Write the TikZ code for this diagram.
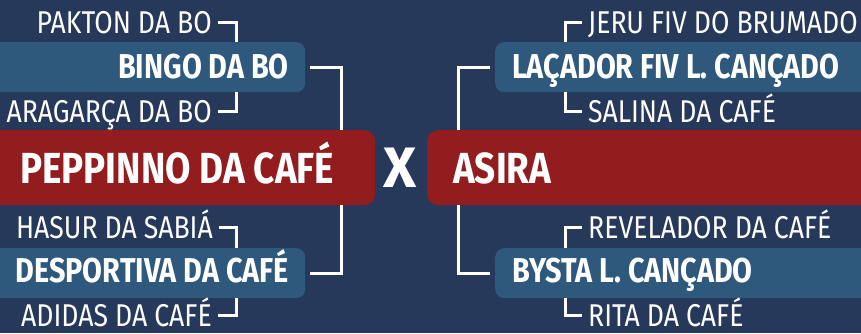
\documentclass[tikz,border=0pt]{standalone}
\usepackage{fontspec}
\setmainfont{Fira Sans}[FakeStretch=0.845, BoldFeatures={FakeStretch=0.835}]
\newfontfamily\bigfont{Fira Sans}[FakeStretch=0.847]
\newfontfamily\vsfont{Fira Sans}
\definecolor{bg}{HTML}{26395B}
\definecolor{boxblue}{HTML}{2F587D}
\definecolor{boxred}{HTML}{931C1E}
\tikzset{
  small/.style={text=white, font=\fontsize{31.5}{32}\selectfont, inner sep=0pt, text height=21.7pt, text depth=0pt},
  mid/.style={text=white, font=\bfseries\fontsize{34.5}{35}\selectfont, inner sep=0pt, text height=23.5pt, text depth=0pt},
  big/.style={text=white, font=\bigfont\bfseries\fontsize{43.5}{44}\selectfont, inner sep=0pt, text height=30pt, text depth=0pt},
  bluebox/.style={fill=boxblue, rounded corners=9pt, inner sep=0pt, anchor=north west, minimum height=50pt},
  redbox/.style={fill=boxred, rounded corners=11pt, inner sep=0pt, anchor=north west, minimum height=75pt},
  conn/.style={draw=white, line width=3pt, line join=miter}
}
\begin{document}
\begin{tikzpicture}[x=1pt,y=-1pt]
\useasboundingbox (0,0) rectangle (861,333);
\fill[bg] (0,0) rectangle (861,333);
\begin{scope}
\clip (0,0) rectangle (861,333);
% boxes
\node[bluebox, minimum width=320pt] (b1) at (-15,42) {};
\node[bluebox, minimum width=320pt] (b2) at (-15,248) {};
\node[bluebox, minimum width=390pt] (b3) at (495,42) {};
\node[bluebox, minimum width=390pt] (b4) at (495,248) {};
\node[redbox, minimum width=390pt] (r1) at (-15,130) {};
\node[redbox, minimum width=460pt] (r2) at (427,130) {};
% texts left
\node[small, anchor=base east] (p1) at (212,33) {PAKTON DA BO};
\node[mid, anchor=base east] (b1t) at (289,78) {BINGO DA BO};
\node[small, anchor=base east] (p2) at (212,122) {ARAGARÇA DA BO};
\node[big, anchor=base west] (r1t) at (20,183) {PEPPINNO DA CAFÉ};
\node[small, anchor=base east] (p3) at (213,238) {HASUR DA SABIÁ};
\node[mid, anchor=base east] (b2t) at (289,282) {DESPORTIVA DA CAFÉ};
\node[small, anchor=base east] (p4) at (212,326) {ADIDAS DA CAFÉ};
% vs
\node[text=white, font=\vsfont\bfseries\fontsize{57}{58}\selectfont, inner sep=0pt, anchor=base] (vs) at (400,187) {X};
% texts right
\node[big, anchor=base west] (r2t) at (453,183) {ASIRA};
\node[small, anchor=base west] (q1) at (588,33) {JERU FIV DO BRUMADO};
\node[mid, anchor=base west] (b3t) at (512,78) {LAÇADOR FIV L. CANÇADO};
\node[small, anchor=base west] (q2) at (588,122) {SALINA DA CAFÉ};
\node[small, anchor=base west] (q3) at (588,238) {REVELADOR DA CAFÉ};
\node[mid, anchor=base west] (b4t) at (512,282) {BYSTA L. CANÇADO};
\node[small, anchor=base west] (q4) at (588,326) {RITA DA CAFÉ};
% bracket columns
\coordinate (lx) at (236,0);
\coordinate (rx) at (565,0);
\coordinate (lc) at (341,0);
\coordinate (rc) at (458,0);
% connectors left
\draw[conn] ([xshift=6pt]p1.east) -| (lx |- b1.north);
\draw[conn] ([xshift=6pt]p2.east) -| (lx |- b1.south);
\draw[conn] ([xshift=5pt]b1.east) -| (lc |- r1.north);
\draw[conn] ([xshift=5pt]b2.east) -| (lc |- r1.south);
\draw[conn] ([xshift=6pt]p3.east) -| (lx |- b2.north);
\draw[conn] ([xshift=6pt]p4.east) -| (lx |- b2.south);
% connectors right
\draw[conn] ([xshift=-6pt]q1.west) -| (rx |- b3.north);
\draw[conn] ([xshift=-6pt]q2.west) -| (rx |- b3.south);
\draw[conn] ([xshift=-5pt]b3.west) -| (rc |- r2.north);
\draw[conn] ([xshift=-5pt]b4.west) -| (rc |- r2.south);
\draw[conn] ([xshift=-6pt]q3.west) -| (rx |- b4.north);
\draw[conn] ([xshift=-6pt]q4.west) -| (rx |- b4.south);
\end{scope}
\end{tikzpicture}
\end{document}
